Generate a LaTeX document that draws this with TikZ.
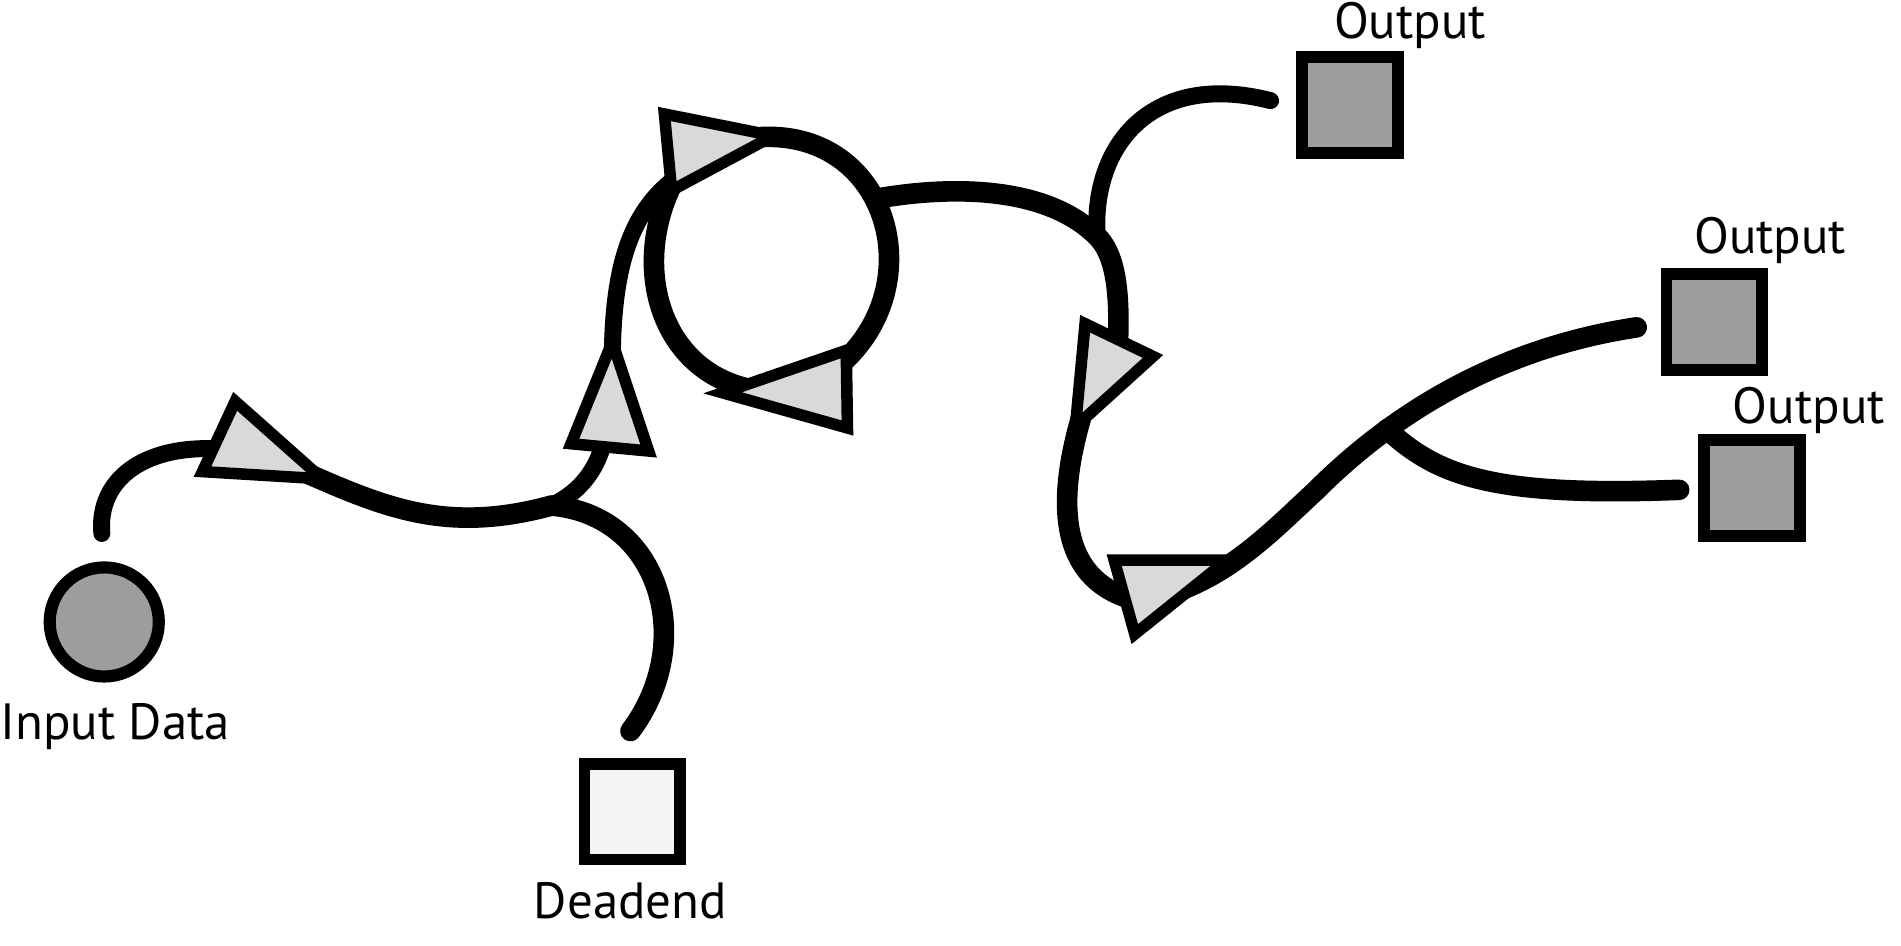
\documentclass[tikz,border=0pt]{standalone}
\usepackage{fontspec}
\setmainfont{PT Sans}
\usetikzlibrary{positioning}

\definecolor{nodegray}{HTML}{9D9D9D}
\definecolor{unitgray}{HTML}{D9D9D9}
\definecolor{deadgray}{HTML}{F4F4F4}

\begin{document}
\begin{tikzpicture}[x=1pt, y=-1pt,
  wire/.style={line width=17pt, line cap=round},
  thinwire/.style={line width=14pt, line cap=round},
  unit/.style={draw, fill=unitgray, line width=9.5pt, line join=miter},
  outbox/.style={rectangle, draw, fill=nodegray, line width=9.5pt, minimum size=79pt, inner sep=0pt},
  inbox/.style={circle, draw, fill=nodegray, line width=10pt, minimum size=90pt, inner sep=0pt},
  lbl/.style={font=\fontsize{42}{46}\selectfont, inner sep=0pt, anchor=base}]
  \useasboundingbox (0,0) rectangle (1568,779.5);

  % input, dead end and outputs
  \node[inbox] (input) at (86,513) {};
  \node[lbl] (inputlbl) at (95,610) {Input Data};
  \node[outbox, fill=deadgray] (dead) at (521.5,669.5) {};
  \node[lbl] (deadlbl) at (520,758) {Deadend};
  \node[outbox] (out1) at (1113.5,86.5) {};
  \node[lbl] (out1lbl) at (1163,32) {Output};
  \node[outbox] (out2) at (1414,265.5) {};
  \node[lbl] (out2lbl) at (1460,209) {Output};
  \node[outbox] (out3) at (1445,402.5) {};
  \node[lbl] (out3lbl) at (1492,349) {Output};

  % loose ends and forks
  \coordinate (inEnd) at (84,440);
  \coordinate (deadEnd) at (520,603);
  \coordinate (out1End) at (1048,83);
  \coordinate (out2End) at (1350,270);
  \coordinate (out3End) at (1385,404);
  \coordinate (forkA) at (455,417);
  \coordinate (forkB) at (905,195);
  \coordinate (forkC) at (1144,354);
  \coordinate (loopR) at (722,164);
  \coordinate (bend) at (1085,405);

  % triangle corners, and where the wires go in and out
  \coordinate (t1a) at (194,331); \coordinate (t1b) at (167,389); \coordinate (t1c) at (266,395);
  \coordinate (t2a) at (505,282); \coordinate (t2b) at (471,366); \coordinate (t2c) at (535,372);
  \coordinate (t3a) at (548,94);  \coordinate (t3b) at (554,157); \coordinate (t3c) at (638,112);
  \coordinate (t4a) at (698,289); \coordinate (t4b) at (699,353); \coordinate (t4c) at (596,324);
  \coordinate (t5a) at (895,267); \coordinate (t5b) at (951,294); \coordinate (t5c) at (887,352);
  \coordinate (t6a) at (919,462); \coordinate (t6b) at (1012,462); \coordinate (t6c) at (936,523);
  \coordinate (t1in) at (190,371); \coordinate (t1out) at (250,389);
  \coordinate (t2in) at (500,355); \coordinate (t2out) at (505,300);
  \coordinate (t3in) at (557,147); \coordinate (t3out) at (628,113);
  \coordinate (t4in) at (688,305); \coordinate (t4out) at (625,322);
  \coordinate (t5in) at (922,285); \coordinate (t5out) at (893,340);
  \coordinate (t6in) at (940,496);

  % wires
  \draw[thinwire] (inEnd) .. controls (80,395) and (120,364) .. (t1in);
  \draw[wire] (t1out) .. controls (320,420) and (370,440) .. (forkA);
  \draw[wire] (forkA) .. controls (545,425) and (575,530) .. (deadEnd);
  \draw[thinwire] (forkA) .. controls (480,405) and (495,385) .. (t2in);
  \draw[thinwire] (t2out) .. controls (505,220) and (520,175) .. (t3in);
  % the loop
  \draw[wire] (t3out) .. controls (735,108) and (770,240) .. (t4in);
  \draw[wire] (t4out) .. controls (545,310) and (518,220) .. (t3in);
  \draw[wire] (loopR) .. controls (790,152) and (865,155) .. (forkB)
    .. controls (920,210) and (924,240) .. (t5in);
  \draw[thinwire] (forkB) .. controls (900,120) and (950,58) .. (out1End);
  \draw[wire] (t5out) .. controls (872,410) and (870,480) .. (t6in)
    .. controls (1005,485) and (1045,442) .. (bend)
    .. controls (1160,330) and (1250,285) .. (out2End);
  \draw[wire] (forkC) .. controls (1185,392) and (1230,410) .. (out3End);

  % units
  \foreach \i in {1,...,6} \filldraw[unit] (t\i a) -- (t\i b) -- (t\i c) -- cycle;
\end{tikzpicture}
\end{document}
